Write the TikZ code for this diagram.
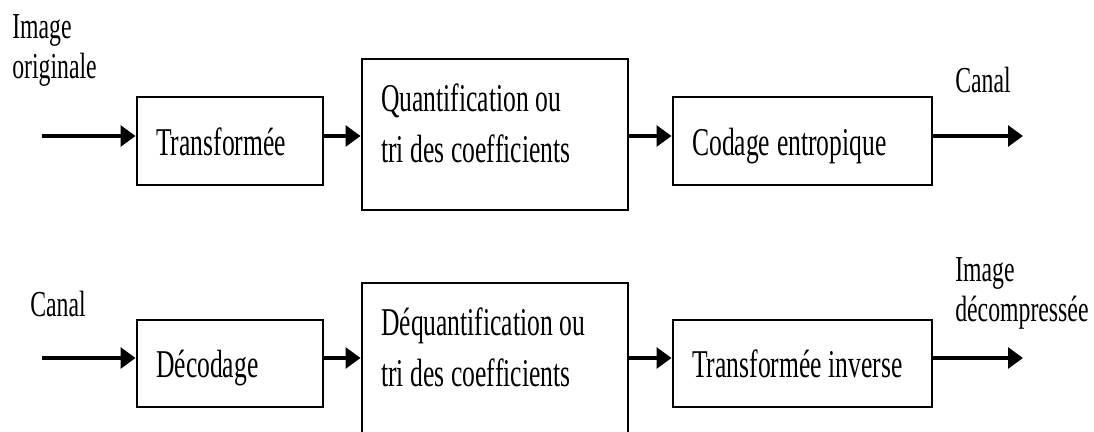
\documentclass[tikz,border=0pt]{standalone}
\usepackage{fontspec}
\setmainfont{Liberation Serif}[FakeStretch=0.65]
\usetikzlibrary{arrows.meta}

\DeclareRobustCommand{\blockfont}{\fontsize{28}{36}\selectfont\fontdimen2\font=0.17em\fontdimen3\font=0pt\relax}

\tikzset{
  blockbox/.style={draw, rectangle, line width=2pt, inner xsep=0.48cm, align=flush left,
    font=\blockfont, text height=20pt, text depth=0pt},
  bigbox/.style={blockbox, text depth=52pt},
  outlabel/.style={inner sep=0pt, align=left, font=\fontsize{26}{29}\selectfont},
  flow/.style={line width=2.5pt, -{Triangle[length=0.375cm, width=0.52cm]}}
}

\begin{document}
\begin{tikzpicture}[x=0.025cm, y=-0.025cm]
  \useasboundingbox (0,0) rectangle (1094,432);
  % Compression chain
  \node[blockbox, minimum width=4.65cm, minimum height=2.2cm, text width=3.69cm] (transf) at (230,141) {Transformée};
  \node[bigbox, minimum width=6.65cm, minimum height=3.775cm, text width=5.69cm] (quant) at (495,134.5) {Quantification ou\\tri des coefficients};
  \node[blockbox, minimum width=6.475cm, minimum height=2.2cm, text width=5.515cm] (codage) at (802.5,141) {Codage entropique};
  \node[outlabel, anchor=north west] (imgin) at (12,14) {Image\\originale};
  \node[outlabel, anchor=base west] (canalout) at (955,93) {Canal};
  \coordinate (in1) at (42,136);
  \coordinate (out1) at (1023,136);
  \draw[flow] (in1) -- (in1 -| transf.west);
  \draw[flow] (transf.east |- in1) -- (quant.west |- in1);
  \draw[flow] (quant.east |- in1) -- (codage.west |- in1);
  \draw[flow] (codage.east |- in1) -- (out1);
  % Decompression chain
  \node[blockbox, minimum width=4.65cm, minimum height=2.175cm, text width=3.69cm] (decod) at (230,363.5) {Décodage};
  \node[bigbox, minimum width=6.65cm, minimum height=3.775cm, text width=5.69cm] (dequant) at (495,358.5) {Déquantification ou\\tri des coefficients};
  \node[blockbox, minimum width=6.475cm, minimum height=2.175cm, text width=5.515cm] (transfinv) at (802.5,363.5) {Transformée inverse};
  \node[outlabel, anchor=base west] (canalin) at (30,317) {Canal};
  \node[outlabel, anchor=north west] (imgout) at (955,257) {Image\\décompressée};
  \coordinate (in2) at (42,358);
  \coordinate (out2) at (1023,358);
  \draw[flow] (in2) -- (in2 -| decod.west);
  \draw[flow] (decod.east |- in2) -- (dequant.west |- in2);
  \draw[flow] (dequant.east |- in2) -- (transfinv.west |- in2);
  \draw[flow] (transfinv.east |- in2) -- (out2);
\end{tikzpicture}
\end{document}
